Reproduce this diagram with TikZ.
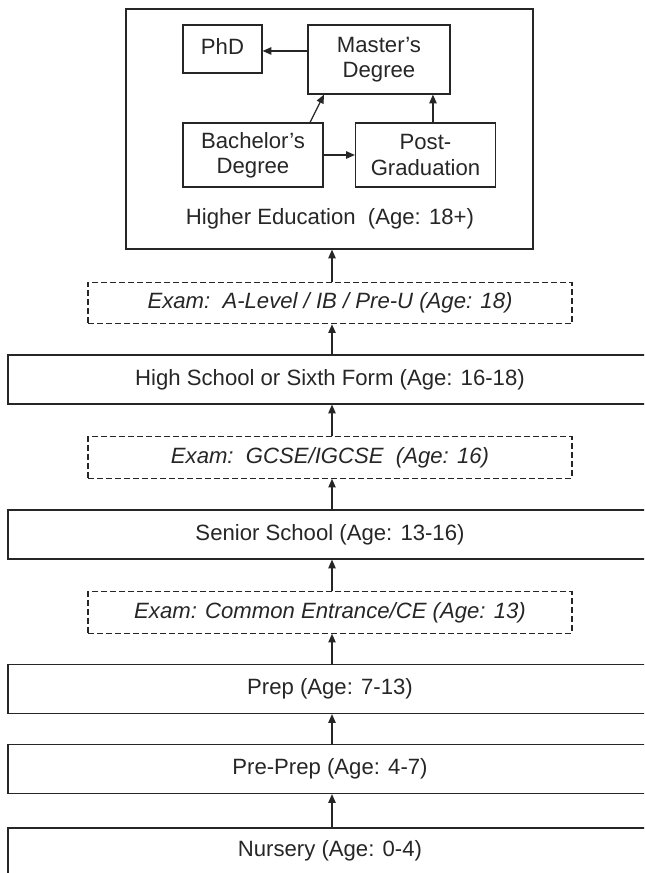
\documentclass[tikz,border=0pt]{standalone}
\usepackage{fontspec}
\setmainfont{Liberation Sans}
\usetikzlibrary{arrows.meta}
\begin{document}
\begin{tikzpicture}[x=0.75pt,y=-0.75pt,
  every node/.style={font=\fontsize{16.6pt}{19pt}\selectfont, text=black!85, inner sep=0pt, align=center},
  box/.style={draw=black!85, line width=0.9pt, rectangle},
  exambox/.style={box, dash pattern=on 4.5pt off 2.25pt, font=\fontsize{16.6pt}{19pt}\selectfont\itshape, minimum width=363pt, minimum height=31pt},
  wide/.style={box, minimum width=483pt, minimum height=36.75pt},
  arr/.style={draw=black!85, line width=0.9pt, -{Triangle[length=6.5pt,width=5.5pt]}}]
\useasboundingbox (0,0) rectangle (644,873);
\clip (0,0) rectangle (644,873);
% higher education
\node[box, minimum width=305.25pt, minimum height=180pt] (he) at (329.5,129) {};
\node (helabel) at (330,219) {Higher Education\ \ (Age: 18+)};
\node[box, minimum width=59.25pt, minimum height=36pt] (phd) at (222.5,49) {};
\node (phdlabel) at (222.5,46) {PhD};
\node[box, minimum width=106.5pt, minimum height=51.75pt] (mast) at (379,59.5) {Master's\\Degree};
\node[box, minimum width=105pt, minimum height=48pt] (bach) at (253,155) {Bachelor's\\Degree};
\node[box, minimum width=105pt, minimum height=48pt] (post) at (425.5,155) {Post-\\Graduation};
% levels
\node[exambox] (examA) at (330,303) {Exam:\ \ A-Level / IB / Pre-U (Age: 18)};
\node[wide] (high) at (330,379.5) {High School or Sixth Form (Age: 16-18)};
\node[exambox] (examG) at (330,457.5) {Exam:\ \ GCSE/IGCSE\ \ (Age: 16)};
\node[wide] (senior) at (330,534.5) {Senior School (Age: 13-16)};
\node[exambox] (examC) at (330,612.5) {Exam: Common Entrance/CE (Age: 13)};
\node[wide] (prep) at (330,689) {Prep (Age: 7-13)};
\node[wide] (preprep) at (330,769) {Pre-Prep (Age: 4-7)};
\node[wide] (nursery) at (330,852.5) {};
\node (nurserylabel) at (330,851) {Nursery (Age: 0-4)};
% arrows inside
\draw[arr] ([yshift=6.4pt]mast.west) -- ([yshift=6.4pt]mast.west -| phd.east);
\draw[arr] (bach.east) -- (post.west);
\draw[arr] ([xshift=42.75pt]bach.north) -- ([xshift=-41.25pt]mast.south);
\draw[arr] ([xshift=5.6pt]post.north) -- ([xshift=5.6pt]post.north |- mast.south);
% chain arrows
\draw[arr] ([xshift=1.5pt]examA.north) -- ([xshift=1.5pt]examA.north |- he.south);
\draw[arr] ([xshift=1.5pt]high.north) -- ([xshift=1.5pt]high.north |- examA.south);
\draw[arr] ([xshift=1.5pt]examG.north) -- ([xshift=1.5pt]examG.north |- high.south);
\draw[arr] ([xshift=1.5pt]senior.north) -- ([xshift=1.5pt]senior.north |- examG.south);
\draw[arr] ([xshift=1.5pt]examC.north) -- ([xshift=1.5pt]examC.north |- senior.south);
\draw[arr] ([xshift=1.5pt]prep.north) -- ([xshift=1.5pt]prep.north |- examC.south);
\draw[arr] ([xshift=1.5pt]preprep.north) -- ([xshift=1.5pt]preprep.north |- prep.south);
\draw[arr] ([xshift=1.5pt]nursery.north) -- ([xshift=1.5pt]nursery.north |- preprep.south);
\end{tikzpicture}
\end{document}
